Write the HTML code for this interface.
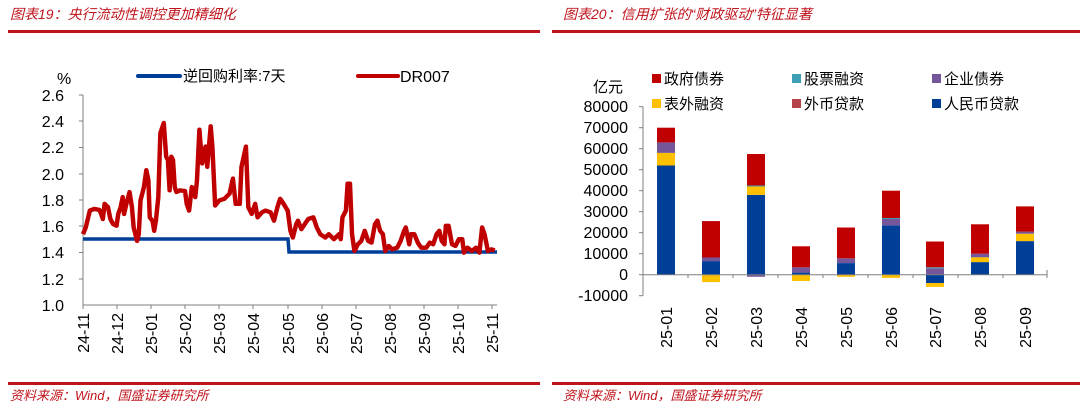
<!DOCTYPE html>
<html><head><meta charset="utf-8"><style>
body{margin:0;width:1080px;height:410px;background:#fff;overflow:hidden;font-family:"Liberation Sans","Noto Sans CJK SC",sans-serif}
svg text{font-family:"Liberation Sans","Noto Sans CJK SC",sans-serif}
</style></head><body>
<svg width="1080" height="410" viewBox="0 0 1080 410" xmlns="http://www.w3.org/2000/svg">
<text x="10" y="19" font-size="14" fill="#c0141c" font-style="italic">图表19：央行流动性调控更加精细化</text>
<text x="563" y="19" font-size="14" fill="#c0141c" font-style="italic">图表20：信用扩张的“财政驱动”特征显著</text>
<rect x="8" y="30" width="532" height="3" fill="#c0141c"/>
<rect x="552" y="30" width="528" height="3" fill="#c0141c"/>
<rect x="8" y="382" width="532" height="3" fill="#c0141c"/>
<rect x="552" y="382" width="528" height="3" fill="#c0141c"/>
<text x="10" y="400" font-size="13" fill="#c0141c" font-style="italic">资料来源：Wind，国盛证券研究所</text>
<text x="563" y="400" font-size="13" fill="#c0141c" font-style="italic">资料来源：Wind，国盛证券研究所</text>

<g font-size="16" fill="#000" text-anchor="end">
<text x="64" y="101">2.6</text><text x="64" y="127">2.4</text><text x="64" y="153">2.2</text><text x="64" y="180">2.0</text><text x="64" y="206">1.8</text><text x="64" y="232">1.6</text><text x="64" y="258">1.4</text><text x="64" y="285">1.2</text><text x="64" y="311">1.0</text>
</g>
<text x="57" y="84" font-size="16">%</text>
<g stroke="#7f7f7f" stroke-width="1">
<line x1="83" y1="95" x2="83" y2="305"/><line x1="83" y1="305" x2="497" y2="305"/>
<line x1="79" y1="95" x2="83" y2="95"/><line x1="79" y1="121" x2="83" y2="121"/><line x1="79" y1="147.5" x2="83" y2="147.5"/><line x1="79" y1="174" x2="83" y2="174"/><line x1="79" y1="200" x2="83" y2="200"/><line x1="79" y1="226" x2="83" y2="226"/><line x1="79" y1="252.5" x2="83" y2="252.5"/><line x1="79" y1="279" x2="83" y2="279"/>
</g>
<g stroke="#7f7f7f">
<line x1="83" y1="305" x2="83" y2="309"/><line x1="117" y1="305" x2="117" y2="309"/><line x1="151" y1="305" x2="151" y2="309"/><line x1="185" y1="305" x2="185" y2="309"/><line x1="219" y1="305" x2="219" y2="309"/><line x1="253" y1="305" x2="253" y2="309"/><line x1="288" y1="305" x2="288" y2="309"/><line x1="322" y1="305" x2="322" y2="309"/><line x1="356" y1="305" x2="356" y2="309"/><line x1="390" y1="305" x2="390" y2="309"/><line x1="424" y1="305" x2="424" y2="309"/><line x1="458" y1="305" x2="458" y2="309"/><line x1="492" y1="305" x2="492" y2="309"/>
</g>
<g font-size="16" text-anchor="end">
<text transform="translate(89,313) rotate(-90)">24-11</text>
<text transform="translate(123,313) rotate(-90)">24-12</text>
<text transform="translate(157,313) rotate(-90)">25-01</text>
<text transform="translate(191,313) rotate(-90)">25-02</text>
<text transform="translate(225,313) rotate(-90)">25-03</text>
<text transform="translate(259,313) rotate(-90)">25-04</text>
<text transform="translate(294,313) rotate(-90)">25-05</text>
<text transform="translate(328,313) rotate(-90)">25-06</text>
<text transform="translate(362,313) rotate(-90)">25-07</text>
<text transform="translate(396,313) rotate(-90)">25-08</text>
<text transform="translate(430,313) rotate(-90)">25-09</text>
<text transform="translate(464,313) rotate(-90)">25-10</text>
<text transform="translate(498,313) rotate(-90)">25-11</text>
</g>
<line x1="138" y1="76" x2="180" y2="76" stroke="#003f98" stroke-width="4" stroke-linecap="round"/>
<text x="183" y="81" font-size="15">逆回购利率:7天</text>
<line x1="358" y1="76" x2="398" y2="76" stroke="#c00000" stroke-width="4" stroke-linecap="round"/>
<text x="400" y="82" font-size="16">DR007</text>
<polyline points="83,239 288,239 289,252 497,252" fill="none" stroke="#003f98" stroke-width="3.5"/>
<g transform="matrix(0.3423,0,0,0.337,0.16,58.94)">
<polyline fill="none" stroke="#c00000" stroke-width="13" stroke-linejoin="round" points="242,520 250,500 262,450 275,445 290,448 295,460 300,475 305,430 315,440 322,475 330,490 340,495 345,460 352,440 358,410 362,460 370,425 378,395 385,440 390,500 400,540 405,520 410,420 420,380 427,330 433,360 437,470 445,480 450,510 455,480 462,410 468,220 478,190 485,290 490,300 495,390 500,290 505,300 510,380 515,395 525,390 540,392 545,430 552,450 560,380 570,410 575,360 582,210 590,310 600,260 605,320 615,200 620,260 628,435 640,420 655,415 670,400 680,355 688,430 700,430 705,320 718,260 725,440 735,460 745,430 752,470 765,455 775,450 790,455 800,480 810,440 818,415 825,425 840,450 848,510 855,530 865,490 870,480 880,505 890,490 900,475 915,470 925,500 935,520 950,530 960,520 975,535 990,520 995,535 1000,470 1010,450 1015,370 1022,370 1028,520 1035,570 1045,550 1055,540 1065,510 1075,540 1085,545 1095,490 1102,480 1110,510 1118,520 1125,570 1135,555 1145,565 1160,560 1170,540 1180,510 1185,500 1195,550 1200,520 1210,520 1220,545 1230,560 1245,560 1255,545 1265,550 1275,520 1283,510 1290,540 1298,550 1302,495 1310,495 1320,550 1330,555 1340,535 1350,535 1355,575 1365,560 1378,570 1390,560 1400,575 1408,500 1415,520 1425,570 1435,565 1445,568"/>
</g>

<text x="593" y="92" font-size="15">亿元</text>
<g font-size="16" text-anchor="end">
<text x="628" y="112">80000</text><text x="628" y="133">70000</text><text x="628" y="154">60000</text><text x="628" y="175">50000</text><text x="628" y="196">40000</text><text x="628" y="217">30000</text><text x="628" y="238">20000</text><text x="628" y="259">10000</text><text x="628" y="280">0</text><text x="628" y="301">-10000</text>
</g>
<g stroke="#7f7f7f">
<line x1="643" y1="106.7" x2="643" y2="295.7"/>
</g>
<g>
<rect x="657" y="165.5" width="18" height="109.2" fill="#003f98"/>
<rect x="657" y="152.9" width="18" height="12.6" fill="#ffc000"/>
<rect x="657" y="142.4" width="18" height="10.5" fill="#76569a"/>
<rect x="657" y="127.7" width="18" height="14.7" fill="#c00000"/>
<rect x="702" y="261.1" width="18" height="13.6" fill="#003f98"/>
<rect x="702" y="257.5" width="18" height="3.6" fill="#76569a"/>
<rect x="702" y="221.1" width="18" height="36.4" fill="#c00000"/>
<rect x="702" y="274.7" width="18" height="7.4" fill="#ffc000"/>
<rect x="747" y="194.9" width="18" height="79.8" fill="#003f98"/>
<rect x="747" y="186.5" width="18" height="8.4" fill="#ffc000"/>
<rect x="747" y="185.5" width="18" height="1" fill="#3d9fb5"/>
<rect x="747" y="154" width="18" height="31.5" fill="#c00000"/>
<rect x="747" y="274.7" width="18" height="2.1" fill="#76569a"/>
<rect x="792" y="272.6" width="18" height="2.1" fill="#003f98"/>
<rect x="792" y="267.3" width="18" height="5.3" fill="#76569a"/>
<rect x="792" y="246.3" width="18" height="21" fill="#c00000"/>
<rect x="792" y="274.7" width="18" height="6.3" fill="#ffc000"/>
<rect x="837" y="263.1" width="18" height="11.6" fill="#003f98"/>
<rect x="837" y="258.3" width="18" height="4.8" fill="#76569a"/>
<rect x="837" y="227.5" width="18" height="30.8" fill="#c00000"/>
<rect x="837" y="274.7" width="18" height="2.1" fill="#ffc000"/>
<rect x="882" y="225.3" width="18" height="49.4" fill="#003f98"/>
<rect x="882" y="219" width="18" height="6.3" fill="#76569a"/>
<rect x="882" y="218" width="18" height="1" fill="#3d9fb5"/>
<rect x="882" y="190.7" width="18" height="27.3" fill="#c00000"/>
<rect x="882" y="274.7" width="18" height="3.2" fill="#ffc000"/>
<rect x="926" y="268.4" width="18" height="6.3" fill="#76569a"/>
<rect x="926" y="267.3" width="18" height="1.1" fill="#3d9fb5"/>
<rect x="926" y="241.5" width="18" height="25.8" fill="#c00000"/>
<rect x="926" y="274.7" width="18" height="8.4" fill="#003f98"/>
<rect x="926" y="283.1" width="18" height="3.8" fill="#ffc000"/>
<rect x="971" y="262.1" width="18" height="12.6" fill="#003f98"/>
<rect x="971" y="257.3" width="18" height="4.8" fill="#ffc000"/>
<rect x="971" y="253.7" width="18" height="3.6" fill="#76569a"/>
<rect x="971" y="224.3" width="18" height="29.4" fill="#c00000"/>
<rect x="1016" y="241.1" width="18" height="33.6" fill="#003f98"/>
<rect x="1016" y="233.7" width="18" height="7.4" fill="#ffc000"/>
<rect x="1016" y="231.6" width="18" height="2.1" fill="#76569a"/>
<rect x="1016" y="206.4" width="18" height="25.2" fill="#c00000"/>
</g>
<g stroke="#7f7f7f">
<line x1="643" y1="274.7" x2="1047" y2="274.7"/>
<line x1="688" y1="274.7" x2="688" y2="278"/><line x1="733" y1="274.7" x2="733" y2="278"/><line x1="778" y1="274.7" x2="778" y2="278"/><line x1="823" y1="274.7" x2="823" y2="278"/><line x1="868" y1="274.7" x2="868" y2="278"/><line x1="913" y1="274.7" x2="913" y2="278"/><line x1="958" y1="274.7" x2="958" y2="278"/><line x1="1003" y1="274.7" x2="1003" y2="278"/><line x1="1047" y1="270" x2="1047" y2="278"/>
<line x1="639" y1="106.7" x2="643" y2="106.7"/><line x1="639" y1="127.7" x2="643" y2="127.7"/><line x1="639" y1="148.7" x2="643" y2="148.7"/><line x1="639" y1="169.7" x2="643" y2="169.7"/><line x1="639" y1="190.7" x2="643" y2="190.7"/><line x1="639" y1="211.7" x2="643" y2="211.7"/><line x1="639" y1="232.7" x2="643" y2="232.7"/><line x1="639" y1="253.7" x2="643" y2="253.7"/><line x1="639" y1="274.7" x2="643" y2="274.7"/><line x1="639" y1="295.7" x2="643" y2="295.7"/>
</g>
<g font-size="16" text-anchor="end">
<text transform="translate(672,307) rotate(-90)">25-01</text>
<text transform="translate(717,307) rotate(-90)">25-02</text>
<text transform="translate(762,307) rotate(-90)">25-03</text>
<text transform="translate(807,307) rotate(-90)">25-04</text>
<text transform="translate(852,307) rotate(-90)">25-05</text>
<text transform="translate(897,307) rotate(-90)">25-06</text>
<text transform="translate(941,307) rotate(-90)">25-07</text>
<text transform="translate(986,307) rotate(-90)">25-08</text>
<text transform="translate(1031,307) rotate(-90)">25-09</text>
</g>
<g font-size="15">
<rect x="652" y="74" width="9" height="9" fill="#c00000"/><text x="664" y="84">政府债券</text>
<rect x="792" y="74" width="9" height="9" fill="#3d9fb5"/><text x="804" y="84">股票融资</text>
<rect x="932" y="74" width="9" height="9" fill="#76569a"/><text x="944" y="84">企业债券</text>
<rect x="652" y="99" width="9" height="9" fill="#ffc000"/><text x="664" y="109">表外融资</text>
<rect x="792" y="99" width="9" height="9" fill="#b5424a"/><text x="804" y="109">外币贷款</text>
<rect x="932" y="99" width="9" height="9" fill="#003f98"/><text x="944" y="109">人民币贷款</text>
</g>
</svg>
</body></html>
